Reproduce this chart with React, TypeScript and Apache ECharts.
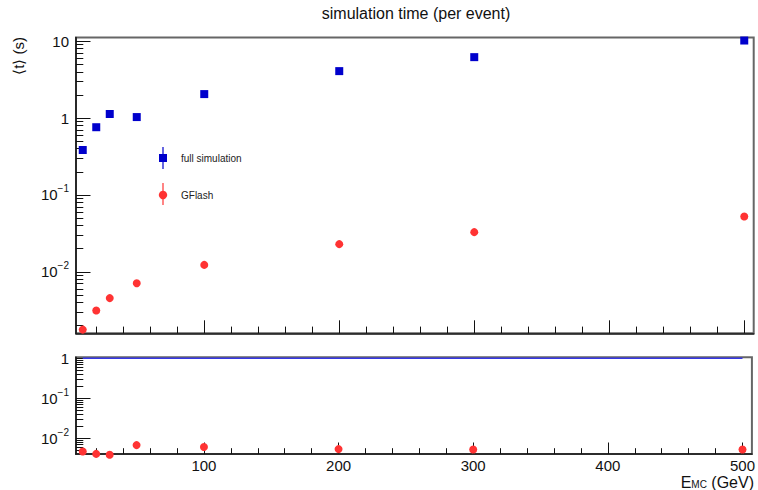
import React, { useEffect, useRef } from 'react';
import * as echarts from 'echarts';

const energies = [10, 20, 30, 50, 100, 200, 300, 500];
const fullSimTime = [0.384, 0.76, 1.13, 1.03, 2.05, 4.08, 6.2, 10.2];
const gflashTime = [0.00177, 0.00314, 0.00455, 0.0071, 0.0123, 0.0229, 0.0328, 0.0524];
const fullRatio = [1, 1, 1, 1, 1, 1, 1, 1];
const gflashRatio = [0.0047, 0.0041, 0.0039, 0.0068, 0.0061, 0.0054, 0.0053, 0.0053];
const xMajorTicks = [100, 200, 300, 400, 500];
const topDecades = [-2, -1, 0, 1];
const bottomDecades = [-2, -1, 0];

const FONT = 'Liberation Sans, Arial, Helvetica, sans-serif';
const X_MIN = 5;
const X_MAX = 507;
const TOP_MIN = -2.8;
const TOP_MAX = 1.048;
const BOT_MIN = -2.39;
const BOT_MAX = 0.025;

function minorLogTicks(lo: number, hi: number): number[] {
  const out: number[] = [];
  for (let d = Math.floor(lo); d <= Math.ceil(hi); d++) {
    for (let k = 2; k <= 9; k++) {
      const v = d + Math.log10(k);
      if (v > lo && v < hi) out.push(v);
    }
  }
  return out;
}

function xMinorTicks(): number[] {
  const out: number[] = [];
  for (let v = 20; v <= 500; v += 20) if (v % 100 !== 0) out.push(v);
  return out;
}

const logLabel = (v: number) => {
  const d = Math.round(v);
  if (d === 0) return '{b|1}';
  if (d === 1) return '{b|10}';
  return `{b|10}{s|\u2212${-d}}`;
};

const richLabel = {
  b: { fontSize: 15, lineHeight: 22, fontFamily: FONT, color: '#111' },
  s: { fontSize: 10, lineHeight: 12, verticalAlign: 'top', fontFamily: FONT, color: '#111' },
};

const axisLineStyle = { color: '#1a1a1a', width: 1.6 };
const tickLineStyle = { color: '#111', width: 1 };

function makeX(gridIndex: number, major: boolean, labels: boolean) {
  return {
    type: 'value',
    gridIndex,
    position: 'bottom',
    min: X_MIN,
    max: X_MAX,
    axisLine: { show: major, onZero: false, lineStyle: axisLineStyle },
    axisTick: {
      show: true,
      inside: true,
      length: major ? (gridIndex === 0 ? 13 : 11.5) : (gridIndex === 0 ? 6.7 : 5.8),
      customValues: major ? xMajorTicks : xMinorTicks(),
      lineStyle: tickLineStyle,
    },
    axisLabel: {
      show: labels,
      customValues: xMajorTicks,
      margin: 4,
      fontSize: 15,
      lineHeight: 15,
      fontFamily: FONT,
      color: '#111',
    },
    splitLine: { show: false },
  };
}

function makeY(gridIndex: number, major: boolean, min: number, max: number, decades: number[]) {
  return {
    type: 'value',
    gridIndex,
    position: 'left',
    min,
    max,
    axisLine: { show: major, onZero: false, lineStyle: axisLineStyle },
    axisTick: {
      show: true,
      inside: true,
      length: major ? 14.5 : 7.3,
      customValues: major ? decades : minorLogTicks(min, max),
      lineStyle: tickLineStyle,
    },
    axisLabel: {
      show: major,
      customValues: decades,
      margin: 7,
      formatter: logLabel,
      rich: richLabel,
    },
    splitLine: { show: false },
  };
}

const toLog = (xs: number[], ys: number[]) => xs.map((x, i) => [x, Math.log10(ys[i])]);

export default function App() {
  const ref = useRef<HTMLDivElement>(null);

  useEffect(() => {
    if (!ref.current) return;
    const chart = echarts.init(ref.current, undefined, { renderer: 'svg' });
    const blue = '#0000cc';
    const red = '#ff3333';
    chart.setOption({
      animation: false,
      backgroundColor: '#fff',
      textStyle: { fontFamily: FONT },
      grid: [
        { left: 76, top: 37.5, width: 677.7, height: 295.8, show: true, borderColor: '#666', borderWidth: 2, containLabel: false },
        { left: 76, top: 357.3, width: 677.7, height: 96.7, show: true, borderColor: '#666', borderWidth: 2, containLabel: false },
      ],
      xAxis: [makeX(0, true, false), makeX(0, false, false), makeX(1, true, true), makeX(1, false, false)],
      yAxis: [
        makeY(0, true, TOP_MIN, TOP_MAX, topDecades),
        makeY(0, false, TOP_MIN, TOP_MAX, topDecades),
        makeY(1, true, BOT_MIN, BOT_MAX, bottomDecades),
        makeY(1, false, BOT_MIN, BOT_MAX, bottomDecades),
      ],
      series: [
        {
          name: 'full simulation',
          type: 'scatter',
          xAxisIndex: 0,
          yAxisIndex: 0,
          symbol: 'rect',
          symbolSize: 8,
          clip: false,
          itemStyle: { color: blue, opacity: 1 },
          data: toLog(energies, fullSimTime),
          z: 5,
        },
        {
          name: 'GFlash',
          type: 'scatter',
          xAxisIndex: 0,
          yAxisIndex: 0,
          symbol: 'circle',
          symbolSize: 8,
          clip: false,
          itemStyle: { color: red, opacity: 1 },
          data: toLog(energies, gflashTime),
          z: 5,
        },
        {
          name: 'full ratio',
          type: 'line',
          xAxisIndex: 2,
          yAxisIndex: 2,
          showSymbol: false,
          symbol: 'none',
          clip: false,
          lineStyle: { color: '#3636e6', width: 1.5, opacity: 1 },
          data: toLog(energies, fullRatio),
          z: 20,
        },
        {
          name: 'GFlash ratio',
          type: 'scatter',
          xAxisIndex: 2,
          yAxisIndex: 2,
          symbol: 'circle',
          symbolSize: 8,
          clip: false,
          itemStyle: { color: red, opacity: 1 },
          data: toLog(energies, gflashRatio),
          z: 5,
        },
      ],
      graphic: [
        {
          type: 'text',
          x: 416,
          y: 13,
          style: { text: 'simulation time (per event)', align: 'center', verticalAlign: 'middle', fontSize: 16, fontFamily: FONT, fill: '#111' },
        },
        {
          type: 'text',
          x: 18,
          y: 37,
          rotation: Math.PI / 2,
          style: { text: '\u27e8t\u27e9 (s)', align: 'right', verticalAlign: 'middle', fontSize: 15, fontFamily: FONT, fill: '#111' },
        },
        {
          type: 'text',
          x: 754,
          y: 482.5,
          style: {
            text: '{a|E}{s|MC}{a| (GeV)}',
            align: 'right',
            verticalAlign: 'middle',
            rich: {
              a: { fontSize: 16, lineHeight: 14, fontFamily: FONT, fill: '#111', color: '#111' },
              s: { fontSize: 10, lineHeight: 9, verticalAlign: 'bottom', fontFamily: FONT, fill: '#111', color: '#111' },
            },
          },
        },
        { type: 'line', shape: { x1: 163, y1: 147, x2: 163, y2: 169 }, style: { stroke: blue, lineWidth: 1.2 } },
        { type: 'rect', shape: { x: 159, y: 154, width: 8, height: 8 }, style: { fill: blue } },
        {
          type: 'text',
          x: 181,
          y: 158.5,
          style: { text: 'full simulation', align: 'left', verticalAlign: 'middle', fontSize: 10, fontFamily: FONT, fill: '#222' },
        },
        { type: 'line', shape: { x1: 163, y1: 183, x2: 163, y2: 205 }, style: { stroke: red, lineWidth: 1.2 } },
        { type: 'circle', shape: { cx: 163, cy: 195, r: 4.2 }, style: { fill: red } },
        {
          type: 'text',
          x: 181,
          y: 195,
          style: { text: 'GFlash', align: 'left', verticalAlign: 'middle', fontSize: 10, fontFamily: FONT, fill: '#222' },
        },
      ],
    });
    return () => chart.dispose();
  }, []);

  return (
    <div
      ref={ref}
      style={{ position: 'fixed', left: 0, top: 0, width: 758, height: 490, background: '#fff' }}
    />
  );
}
